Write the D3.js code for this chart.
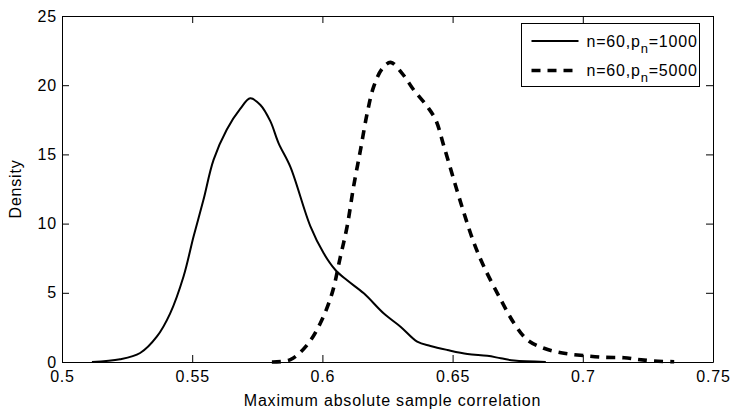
<!DOCTYPE html>
<html>
<head>
<meta charset="utf-8">
<script src="https://cdn.jsdelivr.net/npm/d3@7"></script>
<style>
  body { margin: 0; background: #fff; }
  svg text { font-family: "Liberation Sans", Arial, sans-serif; fill: #000; }
</style>
</head>
<body>
<svg id="chart" width="731" height="410"></svg>
<script>
//  data
const x_ticks = [0.5, 0.55, 0.6, 0.65, 0.7, 0.75];
const y_ticks = [0, 5, 10, 15, 20, 25];

const x_p1000 = [0.5115, 0.5223, 0.530, 0.5364, 0.5415, 0.5467, 0.5505, 0.5543, 0.5582, 0.5633,
                 0.5685, 0.5723, 0.5762, 0.580, 0.5832, 0.5877, 0.5954, 0.6005, 0.605, 0.6095,
                 0.6159, 0.6236, 0.630, 0.6364, 0.6415, 0.648, 0.6557, 0.6633, 0.6685, 0.6736, 0.6858];
const d_p1000 = [0, 0.2, 0.65, 1.83, 3.5, 6.2, 9.05, 11.7, 14.6, 16.8,
                 18.3, 19.05, 18.57, 17.4, 15.8, 14.1, 9.8, 7.85, 6.65, 5.9,
                 4.96, 3.5, 2.55, 1.47, 1.16, 0.87, 0.58, 0.45, 0.27, 0.1, 0];

const x_p5000 = [0.5806, 0.5877, 0.5941, 0.5992, 0.6037, 0.6069, 0.6095, 0.612, 0.6146, 0.6172,
                 0.6197, 0.623, 0.6262, 0.6306, 0.6351, 0.6403, 0.6435, 0.6467, 0.6505, 0.6544,
                 0.6582, 0.662, 0.6685, 0.6736, 0.6787, 0.6851, 0.6928, 0.7005, 0.7082, 0.7159,
                 0.721, 0.7274, 0.7351];
const d_p5000 = [0, 0.17, 1.23, 2.8, 4.96, 7.6, 9.8, 12.7, 15.3, 17.97,
                 19.9, 21.2, 21.65, 20.86, 19.65, 18.45, 17.5, 15.56, 13.15, 10.74,
                 8.6, 6.9, 4.5, 2.8, 1.6, 0.99, 0.63, 0.46, 0.34, 0.31,
                 0.19, 0.07, 0.02];

const series = [
  {label: "1000", xs: x_p1000, ys: d_p1000, dash: null, width: 2},
  {label: "5000", xs: x_p5000, ys: d_p5000, dash: "9,7", width: 3.6}
];

//  draw
function draw_density_chart() {
  const margin = ({top: 16, right: 18, bottom: 48, left: 62});
  const font = 16, spacing = 0.8;
  const svg = d3.select("#chart");
  const w = +svg.attr("width");
  const h = +svg.attr("height");

  const x = d3.scaleLinear().domain([0.5, 0.75]).range([margin.left, w - margin.right]);
  const y = d3.scaleLinear().domain([0, 25]).range([h - margin.bottom, margin.top]);

  const line = d3.line()
    .x(d => x(d[0]))
    .y(d => Math.min(y(d[1]), y(0)))
    .curve(d3.curveCatmullRom.alpha(0.5));

  const plot = svg.append("g");
  series.forEach(s => {
    plot.append("path")
      .datum(s.xs.map((v, i) => [v, s.ys[i]]))
      .attr("fill", "none")
      .attr("stroke", "#000")
      .attr("stroke-width", s.width)
      .attr("stroke-dasharray", s.dash)
      .attr("d", line);
  });

  //  axes, MATLAB style: box with inward ticks on all sides
  const tick = 7;
  const bottom = g => g
    .attr("transform", `translate(0,${y(0)})`)
    .call(d3.axisBottom(x).tickValues(x_ticks).tickSizeInner(-tick).tickSizeOuter(0).tickPadding(9)
      .tickFormat(d3.format("")));
  const top = g => g
    .attr("transform", `translate(0,${y(25)})`)
    .call(d3.axisTop(x).tickValues(x_ticks).tickSizeInner(-tick).tickSizeOuter(0).tickFormat(""));
  const left = g => g
    .attr("transform", `translate(${x(0.5)},0)`)
    .call(d3.axisLeft(y).tickValues(y_ticks).tickSizeInner(-tick).tickSizeOuter(0).tickPadding(5));
  const right = g => g
    .attr("transform", `translate(${x(0.75)},0)`)
    .call(d3.axisRight(y).tickValues(y_ticks).tickSizeInner(-tick).tickSizeOuter(0).tickFormat(""));

  [bottom, top, left, right].forEach(a => {
    const g = svg.append("g").call(a);
    g.selectAll("line, path").attr("stroke", "#000");
    g.selectAll("text").attr("font-size", font).attr("fill", "#000")
      .attr("letter-spacing", spacing)
      .style("font-family", "'Liberation Sans', Arial, sans-serif");
  });

  svg.append("text")
    .attr("x", (x(0.5) + x(0.75)) / 2 + 5)
    .attr("y", h - 4)
    .attr("text-anchor", "middle")
    .attr("font-size", font)
    .attr("letter-spacing", spacing)
    .text("Maximum absolute sample correlation");

  svg.append("text")
    .attr("transform", `translate(21,${(y(0) + y(25)) / 2}) rotate(-90)`)
    .attr("text-anchor", "middle")
    .attr("font-size", font)
    .attr("letter-spacing", spacing)
    .text("Density");

  //  legend
  const lg = svg.append("g").attr("transform", "translate(521.5,23.5)");
  lg.append("rect")
    .attr("width", 178).attr("height", 63)
    .attr("fill", "#fff").attr("stroke", "#000");
  series.forEach((s, i) => {
    const ly = 17.5 + i * 29.5;
    lg.append("line")
      .attr("x1", 10).attr("x2", 57).attr("y1", ly).attr("y2", ly)
      .attr("stroke", "#000")
      .attr("stroke-width", s.width)
      .attr("stroke-dasharray", s.dash);
    const t = lg.append("text")
      .attr("x", 65).attr("y", ly + 5.5)
      .attr("font-size", font)
      .attr("letter-spacing", spacing);
    t.append("tspan").text("n=60,p");
    t.append("tspan").attr("dy", 6).attr("font-size", 13).text("n");
    t.append("tspan").attr("dy", -6).text("=" + s.label);
  });
}

draw_density_chart();
</script>
</body>
</html>
